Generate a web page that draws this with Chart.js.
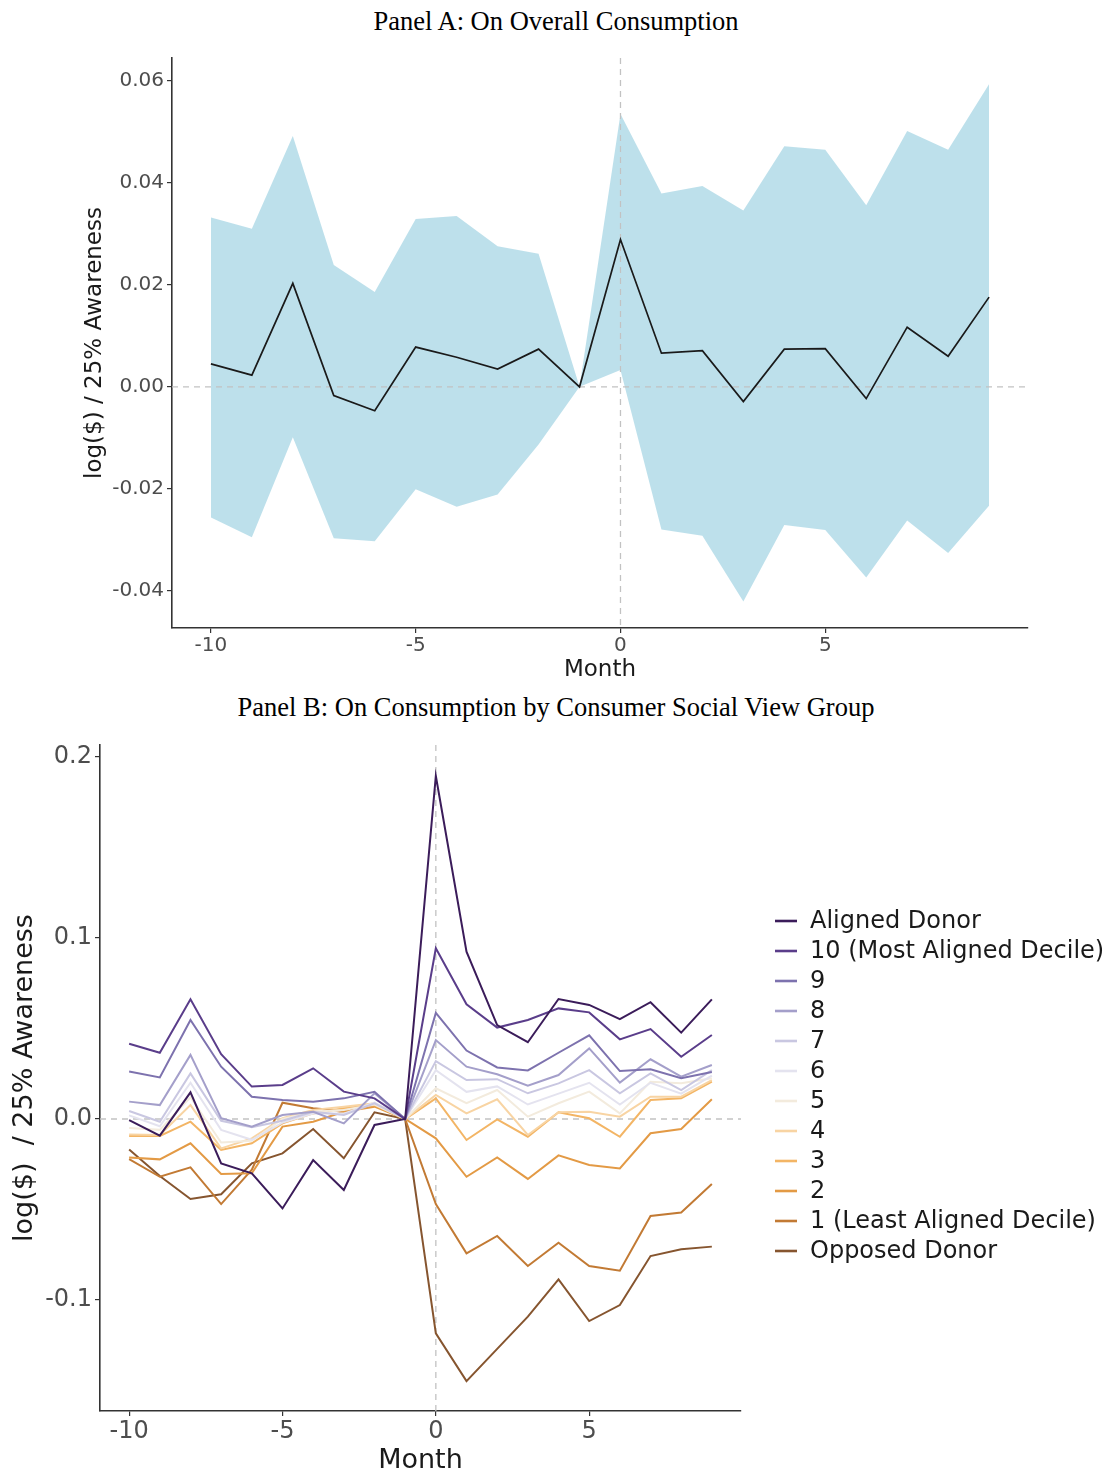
<!DOCTYPE html>
<html>
<head>
<meta charset="utf-8">
<script src="https://cdn.jsdelivr.net/npm/chart.js@4.4.1/dist/chart.umd.min.js"></script>
<style>
  html, body { margin: 0; padding: 0; background: #fff; width: 1112px; height: 1471px; overflow: hidden; }
  .panel-title { position: absolute; left: 0; width: 1112px; text-align: center; line-height: 30px;
    font-family: "Liberation Serif", "Times New Roman", serif; font-size: 26.5px; color: #000; }
  canvas { position: absolute; left: 0; }
</style>
</head>
<body>
<div class="panel-title" style="top:6px">Panel A: On Overall Consumption</div>
<canvas id="panelA" width="1112" height="650" style="top:40px"></canvas>
<div class="panel-title" style="top:692px">Panel B: On Consumption by Consumer Social View Group</div>
<canvas id="panelB" width="1112" height="750" style="top:725px"></canvas>

<script>
// ----- DATA -----
const months = [-10, -9, -8, -7, -6, -5, -4, -3, -2, -1, 0, 1, 2, 3, 4, 5, 6, 7, 8, 9];
const monthTicks = [-10, -5, 0, 5];

// Panel A: overall consumption, estimate with confidence band
const estimate = [0.0045, 0.0023, 0.0203, -0.0017, -0.0047, 0.0078, 0.0058, 0.0035, 0.0074, 0.0,
                  0.0289, 0.0066, 0.0071, -0.0029, 0.0074, 0.0075, -0.0023, 0.0117, 0.0060, 0.0176];
const ciUpper = [0.0332, 0.0310, 0.0492, 0.0239, 0.0186, 0.0329, 0.0335, 0.0276, 0.0261, 0.0,
                 0.0535, 0.0379, 0.0394, 0.0346, 0.0472, 0.0465, 0.0356, 0.0502, 0.0465, 0.0594];
const ciLower = [-0.0256, -0.0295, -0.0099, -0.0297, -0.0303, -0.0201, -0.0235, -0.0211, -0.0113, 0.0,
                 0.0033, -0.0280, -0.0292, -0.0421, -0.0271, -0.0281, -0.0374, -0.0262, -0.0326, -0.0233];
const yTicksA = [-0.04, -0.02, 0, 0.02, 0.04, 0.06];

// Panel B: by consumer social view group
const groupLabels = ["Aligned Donor", "10 (Most Aligned Decile)", "9", "8", "7", "6", "5", "4", "3", "2",
                     "1 (Least Aligned Decile)", "Opposed Donor"];
const alignedDonor = [-0.0006, -0.0092, 0.0147, -0.0245, -0.0300, -0.0494, -0.0227, -0.0392, -0.0033, 0,
                      0.1895, 0.0924, 0.0519, 0.0424, 0.0663, 0.0630, 0.0552, 0.0645, 0.0477, 0.0661];
const decile10 = [0.0416, 0.0366, 0.0661, 0.0358, 0.0179, 0.0188, 0.0280, 0.0151, 0.0114, 0,
                  0.0943, 0.0634, 0.0505, 0.0547, 0.0611, 0.0589, 0.0440, 0.0497, 0.0344, 0.0464];
const decile9 = [0.0262, 0.0230, 0.0547, 0.0289, 0.0123, 0.0105, 0.0096, 0.0114, 0.0150, 0,
                 0.0586, 0.0378, 0.0285, 0.0268, 0.0366, 0.0462, 0.0265, 0.0275, 0.0225, 0.0260];
const decile8 = [0.0096, 0.0077, 0.0354, 0.0005, -0.0042, 0.0022, 0.0040, -0.0024, 0.0142, 0,
                 0.0436, 0.0289, 0.0247, 0.0184, 0.0243, 0.0390, 0.0201, 0.0330, 0.0234, 0.0298];
const decile7 = [0.0044, -0.0015, 0.0252, -0.0010, -0.0046, -0.0010, 0.0040, 0.0022, 0.0087, 0,
                 0.0320, 0.0215, 0.0220, 0.0142, 0.0197, 0.0270, 0.0142, 0.0252, 0.0160, 0.0270];
const decile6 = [0.0020, -0.0040, 0.0200, -0.0060, -0.0115, -0.0020, 0.0030, 0.0030, 0.0090, 0,
                 0.0270, 0.0150, 0.0180, 0.0080, 0.0140, 0.0200, 0.0080, 0.0200, 0.0140, 0.0240];
const decile5 = [-0.0050, -0.0060, 0.0120, -0.0130, -0.0120, 0.0000, 0.0040, 0.0050, 0.0080, 0,
                 0.0170, 0.0087, 0.0160, 0.0013, 0.0087, 0.0151, 0.0031, 0.0206, 0.0197, 0.0225];
const decile4 = [-0.0085, -0.0088, 0.0077, -0.0162, -0.0107, 0.0004, 0.0050, 0.0068, 0.0087, 0,
                 0.0133, 0.0031, 0.0109, -0.0088, 0.0037, 0.0040, 0.0013, 0.0123, 0.0123, 0.0215];
const decile3 = [-0.0094, -0.0094, -0.0015, -0.0171, -0.0134, -0.0024, 0.0031, 0.0059, 0.0077, 0,
                 0.0114, -0.0116, -0.0002, -0.0098, 0.0037, 0.0004, -0.0098, 0.0105, 0.0114, 0.0206];
const decile2 = [-0.0212, -0.0223, -0.0134, -0.0304, -0.0300, -0.0042, -0.0015, 0.0040, 0.0068, 0,
                 -0.0107, -0.0319, -0.0212, -0.0331, -0.0201, -0.0254, -0.0273, -0.0079, -0.0055, 0.0109];
const decile1 = [-0.0221, -0.0319, -0.0267, -0.0470, -0.0280, 0.0090, 0.0059, 0.0044, 0.0077, 0,
                 -0.0470, -0.0742, -0.0646, -0.0812, -0.0683, -0.0812, -0.0838, -0.0536, -0.0517, -0.0359];
const opposedDonor = [-0.0168, -0.0315, -0.0442, -0.0416, -0.0245, -0.0190, -0.0055, -0.0217, 0.0037, 0,
                      -0.1184, -0.1448, -0.1270, -0.1092, -0.0886, -0.1116, -0.1028, -0.0757, -0.0720, -0.0705];
const yTicksB = [-0.1, 0, 0.1, 0.2];

// ----- STYLE -----
const groupSeries = [alignedDonor, decile10, decile9, decile8, decile7, decile6,
                     decile5, decile4, decile3, decile2, decile1, opposedDonor];
const groupColors = ["#3b1c5a", "#5a3d8a", "#7d72ae", "#a49fca", "#c9c7e1", "#e4e3ef",
                     "#f3ebdd", "#f8d4a3", "#f3b565", "#e39a45", "#c27a34", "#86552f"];

Chart.defaults.font.family = "'DejaVu Sans', sans-serif";
const axisColor = "#333333";
const tickColor = "#4d4d4d";

const toPoints = arr => months.map((m, i) => ({ x: m, y: arr[i] }));

// dashed reference lines at month 0 and y = 0
function drawRefLines(chart) {
  const { ctx, chartArea, scales } = chart;
  const y0 = scales.y.getPixelForValue(0);
  const x0 = scales.x.getPixelForValue(0);
  ctx.save();
  ctx.strokeStyle = "#c2c2c2";
  ctx.lineWidth = 1.3;
  ctx.setLineDash([6, 5]);
  ctx.beginPath();
  ctx.moveTo(chartArea.left, y0);
  ctx.lineTo(chartArea.right, y0);
  ctx.stroke();
  ctx.beginPath();
  ctx.moveTo(x0, chartArea.top);
  ctx.lineTo(x0, chartArea.bottom);
  ctx.stroke();
  ctx.restore();
}

// Panel A: lines drawn over the band, under the estimate
const refLinesA = {
  id: "refLinesA",
  beforeDatasetDraw(chart, args) {
    if (args.index === 0) drawRefLines(chart);
  }
};
const refLinesB = {
  id: "refLinesB",
  beforeDatasetsDraw(chart) { drawRefLines(chart); }
};

// legend column to the right of panel B
const sideLegend = {
  id: "sideLegend",
  afterDraw(chart) {
    const { ctx, chartArea } = chart;
    const left = chartArea.right + 34;
    const step = 30;
    const mid = (chartArea.top + chartArea.bottom) / 2 + 8;
    const top = mid - step * (groupLabels.length - 1) / 2;
    ctx.save();
    ctx.font = "24px 'DejaVu Sans', sans-serif";
    ctx.textBaseline = "middle";
    ctx.fillStyle = "#1a1a1a";
    groupLabels.forEach((label, i) => {
      const y = top + i * step;
      ctx.strokeStyle = groupColors[i];
      ctx.lineWidth = 2.6;
      ctx.beginPath();
      ctx.moveTo(left, y);
      ctx.lineTo(left + 22, y);
      ctx.stroke();
      ctx.fillText(label, left + 35, y + 1);
    });
    ctx.restore();
  }
};

function xScale(height, tickSize, titleSize, titlePad) {
  return {
    type: "linear",
    min: -10.95,
    max: 9.95,
    afterBuildTicks: s => { s.ticks = monthTicks.map(v => ({ value: v })); },
    afterFit: s => { s.height = height; },
    grid: { drawOnChartArea: false, tickLength: 5, color: axisColor, lineWidth: 1.2 },
    border: { color: axisColor, width: 1.6 },
    ticks: { padding: 1, color: tickColor, font: { size: tickSize }, maxRotation: 0, callback: v => String(v) },
    title: { display: true, text: "Month", color: "#1a1a1a", font: { size: titleSize }, padding: { top: 0, bottom: titlePad } }
  };
}

function yScale(min, max, ticks, digits, width, tickSize, title, titleSize, titlePad) {
  return {
    min: min,
    max: max,
    afterBuildTicks: s => { s.ticks = ticks.map(v => ({ value: v })); },
    afterFit: s => { s.width = width; },
    grid: { drawOnChartArea: false, tickLength: 5, color: axisColor, lineWidth: 1.2 },
    border: { color: axisColor, width: 1.6 },
    ticks: { padding: 3, color: tickColor, font: { size: tickSize }, callback: v => v.toFixed(digits) },
    title: { display: true, text: title, color: "#1a1a1a", font: { size: titleSize }, padding: { top: titlePad, bottom: 0 } }
  };
}

// ----- PANEL A -----
new Chart(document.getElementById("panelA"), {
  type: "line",
  data: {
    datasets: [
      { label: "Estimate", data: toPoints(estimate), borderColor: "#1a1a1a", borderWidth: 1.7,
        pointRadius: 0, fill: false, tension: 0 },
      { label: "Upper", data: toPoints(ciUpper), borderColor: "transparent", borderWidth: 0,
        pointRadius: 0, fill: "+1", backgroundColor: "rgba(173, 216, 230, 0.8)" },
      { label: "Lower", data: toPoints(ciLower), borderColor: "transparent", borderWidth: 0,
        pointRadius: 0, fill: false }
    ]
  },
  options: {
    responsive: false,
    animation: false,
    layout: { padding: { top: 18, right: 84, left: 0, bottom: 0 } },
    plugins: { legend: { display: false }, tooltip: { enabled: false } },
    scales: {
      x: xScale(62, 20, 23, 6),
      y: yScale(-0.0473, 0.0645, yTicksA, 2, 172, 20, "log($) / 25% Awareness", 23, 81)
    }
  },
  plugins: [refLinesA]
});

// ----- PANEL B -----
new Chart(document.getElementById("panelB"), {
  type: "line",
  data: {
    datasets: groupSeries.map((arr, i) => ({
      label: groupLabels[i],
      data: toPoints(arr),
      borderColor: groupColors[i],
      borderWidth: 2,
      pointRadius: 0,
      fill: false,
      tension: 0
    }))
  },
  options: {
    responsive: false,
    animation: false,
    layout: { padding: { top: 20, right: 371, left: 0, bottom: 0 } },
    plugins: { legend: { display: false }, tooltip: { enabled: false } },
    scales: {
      x: xScale(64, 24, 27, -2),
      y: yScale(-0.1613, 0.2066, yTicksB, 1, 100, 24, "log($)  / 25% Awareness", 27, 9)
    }
  },
  plugins: [refLinesB, sideLegend]
});
</script>
</body>
</html>
